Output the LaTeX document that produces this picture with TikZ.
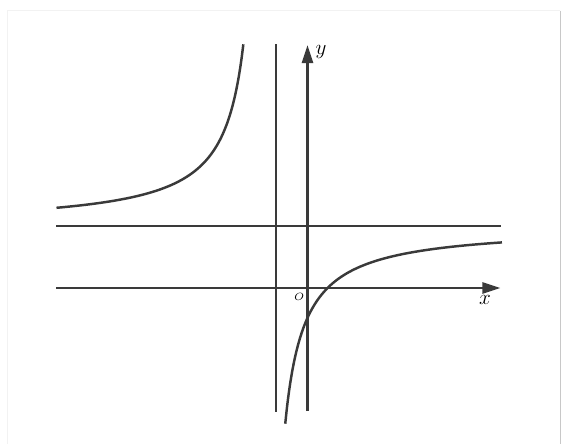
\documentclass[tikz,border=0pt]{standalone}
\usepackage{amsmath, amssymb}
\usepackage{tikz}
\usetikzlibrary{arrows.meta, positioning, calc}
\definecolor{LineGray}{HTML}{3A3A3A}
\definecolor{FrameGray}{HTML}{C8C8C8}

\begin{document}
\begin{tikzpicture}[
    >=Triangle, font=\fontsize{13}{15}\selectfont,
    asym/.style={LineGray, line width=1.3pt},
    axis/.style={LineGray, line width=1.3pt, -{Triangle[length=3.6mm, width=2.2mm]}},
    branch/.style={LineGray, line width=1.4pt, samples=120, smooth},
    lbl/.style={inner sep=0pt},
  ]
    \useasboundingbox (-6.15,-3.12) rectangle (5.07,5.76);
    % ---- frame ----
    \draw[black!5] (-6.0,-3.12) -- (-6.0,5.55) -- (5.05,5.55);
    \draw[FrameGray] (5.05,5.55) -- (5.05,-3.12);
    % ---- end points ----
    \coordinate (xs) at (-5.02,0);
    \coordinate (xe) at (3.86,0);
    \coordinate (ys) at (0,-2.46);
    \coordinate (ye) at (0,4.86);
    \coordinate (hs) at (-5.02,1.234);
    \coordinate (he) at (3.88,1.234);
    \coordinate (vs) at (-0.636,-2.47);
    \coordinate (ve) at (-0.636,4.88);
    % ---- asymptotes ----
    \draw[asym] (hs) -- (he);
    \draw[asym] (vs) -- (ve);
    % ---- axes ----
    \draw[axis] (xs) -- (xe);
    \draw[axis] (ys) -- (ye);
    % ---- branches ----
    \draw[branch, domain=-5.02:-1.282] plot (\x, {1.234 + 1.54/(-0.86 - \x)});
    \draw[branch, domain=-0.445:3.89]  plot (\x, {1.234 - 1.52/(\x + 0.83)});
    % ---- labels ----
    \node[lbl] (ylbl) at (0.27,4.71)    {$y$};
    \node[lbl] (xlbl) at (3.55,-0.24)   {$x$};
    \node[lbl, font=\fontsize{6.5}{8}\selectfont] (olbl) at (-0.166,-0.174) {$O$};
  \end{tikzpicture}
\end{document}
